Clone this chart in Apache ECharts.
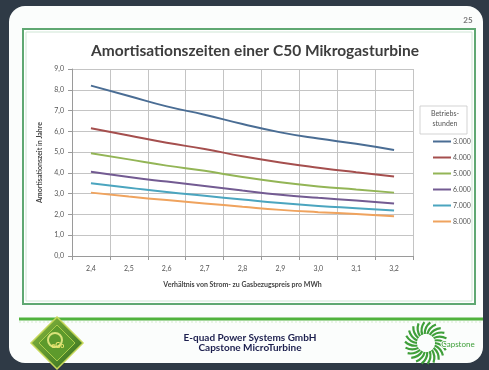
<!DOCTYPE html>
<html>
<head>
<meta charset="utf-8">
<script src="https://cdn.jsdelivr.net/npm/echarts@6/dist/echarts.min.js"></script>
<style>
  html, body { margin: 0; padding: 0; background: #2f3a46; }
  #chart { width: 489px; height: 370px; }
</style>
</head>
<body>
<div id="chart"></div>
<script>
// Ratio of electricity price to gas price per MWh (x axis categories)
const categories = ['2,4', '2,5', '2,6', '2,7', '2,8', '2,9', '3,0', '3,1', '3,2'];

// Operating hours per year (legend entries)
const hourLabels = ['3.000', '4.000', '5.000', '6.000', '7.000', '8.000'];

// Payback time in years for each number of operating hours
const payback3000 = [8.20, 7.70, 7.20, 6.80, 6.35, 5.95, 5.65, 5.40, 5.10];
const payback4000 = [6.15, 5.80, 5.45, 5.15, 4.80, 4.50, 4.25, 4.03, 3.83];
const payback5000 = [4.95, 4.65, 4.35, 4.10, 3.80, 3.55, 3.35, 3.20, 3.05];
const payback6000 = [4.05, 3.80, 3.58, 3.37, 3.15, 2.95, 2.80, 2.67, 2.53];
const payback7000 = [3.50, 3.29, 3.08, 2.90, 2.72, 2.55, 2.41, 2.30, 2.19];
const payback8000 = [3.05, 2.86, 2.69, 2.53, 2.37, 2.22, 2.11, 2.02, 1.91];

const seriesValues = [payback3000, payback4000, payback5000, payback6000, payback7000, payback8000];
const lineColors = ['#4a6d94', '#a54f4e', '#93b556', '#735b92', '#4ba5bf', '#efa35e'];

const chart = echarts.init(document.getElementById('chart'));

// Capstone turbine emblem: ring of curved blades
function turbineBlades(cx, cy) {
  const blades = [];
  const n = 22;
  for (let i = 0; i < n; i++) {
    const a = (i / n) * Math.PI * 2;
    const a2 = a + 0.35;
    const r1 = 9, r2 = 21;
    blades.push({
      type: 'bezierCurve',
      z: -5,
      shape: {
        x1: cx + r1 * Math.cos(a), y1: cy + r1 * Math.sin(a),
        x2: cx + r2 * Math.cos(a2), y2: cy + r2 * Math.sin(a2),
        cpx1: cx + 16 * Math.cos(a + 0.05), cpy1: cy + 16 * Math.sin(a + 0.05)
      },
      style: { stroke: '#3f9f3a', lineWidth: 2.2, fill: null }
    });
  }
  return blades;
}

const decorations = [
  // slide page with rounded corners
  { type: 'rect', z: -100, shape: { x: 9, y: 6, width: 474, height: 357, r: 16 },
    style: { fill: '#fbfdfc' } },
  // green chart frame
  { type: 'rect', z: -90, shape: { x: 23, y: 29, width: 452, height: 275 },
    style: { fill: '#ffffff', stroke: '#5fa872', lineWidth: 2 } },
  { type: 'rect', z: -89, shape: { x: 26, y: 32, width: 446, height: 269 },
    style: { fill: null, stroke: '#cfe6d5', lineWidth: 1 } },
  // footer separator
  { type: 'line', z: -80, shape: { x1: 19, y1: 319, x2: 483, y2: 319 },
    style: { stroke: '#4fb23c', lineWidth: 3 } },
  { type: 'line', z: -80, shape: { x1: 19, y1: 322, x2: 483, y2: 322 },
    style: { stroke: '#d5ecd0', lineWidth: 1, lineDash: [2, 2] } },
  // slide number
  { type: 'text', z: -70, style: { x: 468, y: 20, text: '25', fill: '#777', font: 'bold 8px Lato', textAlign: 'center', textVerticalAlign: 'middle' } },
  // footer company text
  { type: 'text', z: -70, style: { x: 250, y: 338, text: 'E-quad Power Systems GmbH', fill: '#1c1f4e', font: 'bold 10px Lato', textAlign: 'center', textVerticalAlign: 'middle' } },
  { type: 'text', z: -70, style: { x: 250, y: 348, text: 'Capstone MicroTurbine', fill: '#1c1f4e', font: 'bold 10px Lato', textAlign: 'center', textVerticalAlign: 'middle' } },
  // E-quad diamond emblem
  { type: 'polygon', z: -60, shape: { points: [[57, 317], [83, 343], [57, 369], [31, 343]] },
    style: { fill: new echarts.graphic.LinearGradient(0, 0, 1, 1, [{ offset: 0, color: '#8dbd3f' }, { offset: 1, color: '#2f6a1e' }]), stroke: '#c7d85a', lineWidth: 1.5 } },
  { type: 'polygon', z: -59, shape: { points: [[57, 325], [75, 343], [57, 361], [39, 343]] },
    style: { fill: '#5d9a2c', stroke: '#a9cc4a', lineWidth: 1 } },
  { type: 'circle', z: -58, shape: { cx: 55, cy: 340, r: 7 },
    style: { fill: null, stroke: '#d9e27a', lineWidth: 2 } },
  { type: 'text', z: -57, style: { x: 58, y: 346, text: 'eGo', fill: '#f0e870', font: 'bold 7px Lato', textAlign: 'center', textVerticalAlign: 'middle' } },
  // Capstone word mark
  { type: 'text', z: -4, style: { x: 458, y: 344, text: 'Capstone', fill: '#3f9f3a', font: '8px Lato', textAlign: 'center', textVerticalAlign: 'middle', stroke: '#fbfdfc', lineWidth: 2 } },
  // legend heading box
  { type: 'rect', z: 10, shape: { x: 420, y: 106, width: 47, height: 28 },
    style: { fill: '#ffffff', stroke: '#c8c8c8', lineWidth: 0.8 } },
  { type: 'text', z: 11, style: { x: 445, y: 114, text: 'Betriebs-', fill: '#555', font: '7px Lato', textAlign: 'center', textVerticalAlign: 'middle' } },
  { type: 'text', z: 11, style: { x: 445, y: 124, text: 'stunden', fill: '#555', font: '7px Lato', textAlign: 'center', textVerticalAlign: 'middle' } }
].concat(turbineBlades(426, 343));

chart.setOption({
  backgroundColor: '#2f3a46',
  animation: false,
  title: {
    text: 'Amortisationszeiten einer C50 Mikrogasturbine',
    left: 250, top: 38, textAlign: 'center',
    textStyle: { fontFamily: 'Lato', fontWeight: 'bold', fontSize: 15.5, color: '#3d3d3d' }
  },
  graphic: { elements: decorations },
  grid: { left: 72, right: 76, top: 69, bottom: 114, containLabel: false },
  legend: {
    data: hourLabels,
    orient: 'vertical',
    left: 428, top: 133,
    icon: 'rect',
    itemWidth: 18, itemHeight: 2, itemGap: 9,
    textStyle: { fontFamily: 'Lato', fontSize: 7, color: '#555', padding: [0, 0, 0, -3] }
  },
  xAxis: {
    type: 'category',
    data: categories,
    boundaryGap: true,
    name: 'Verhältnis von Strom- zu Gasbezugspreis pro MWh',
    nameLocation: 'middle', nameGap: 25,
    nameTextStyle: { fontFamily: 'Lato', fontWeight: 'bold', fontSize: 7, color: '#444' },
    axisLine: { lineStyle: { color: '#9a9a9a', width: 1 } },
    axisTick: { show: true, length: 4, lineStyle: { color: '#9a9a9a' } },
    axisLabel: { fontFamily: 'Lato', fontSize: 7, color: '#555', margin: 9 },
    splitLine: { show: true, lineStyle: { color: '#c4c4c4', width: 1 } }
  },
  yAxis: {
    type: 'value',
    min: 0, max: 9, interval: 1,
    name: 'Amortisationszeit in Jahre',
    nameLocation: 'middle', nameGap: 28, nameRotate: 90,
    nameTextStyle: { fontFamily: 'Lato', fontWeight: 'bold', fontSize: 7, color: '#444' },
    axisLine: { show: true, lineStyle: { color: '#9a9a9a', width: 1 } },
    axisTick: { show: true, length: 4, lineStyle: { color: '#9a9a9a' } },
    axisLabel: {
      fontFamily: 'Lato', fontSize: 7, color: '#555', margin: 8,
      formatter: v => v.toFixed(1).replace('.', ',')
    },
    splitLine: { show: true, lineStyle: { color: '#c4c4c4', width: 1 } }
  },
  series: seriesValues.map((vals, i) => ({
    name: hourLabels[i],
    type: 'line',
    data: vals,
    smooth: true,
    symbol: 'none',
    lineStyle: { color: lineColors[i], width: 2 },
    itemStyle: { color: lineColors[i] }
  }))
});
</script>
</body>
</html>
